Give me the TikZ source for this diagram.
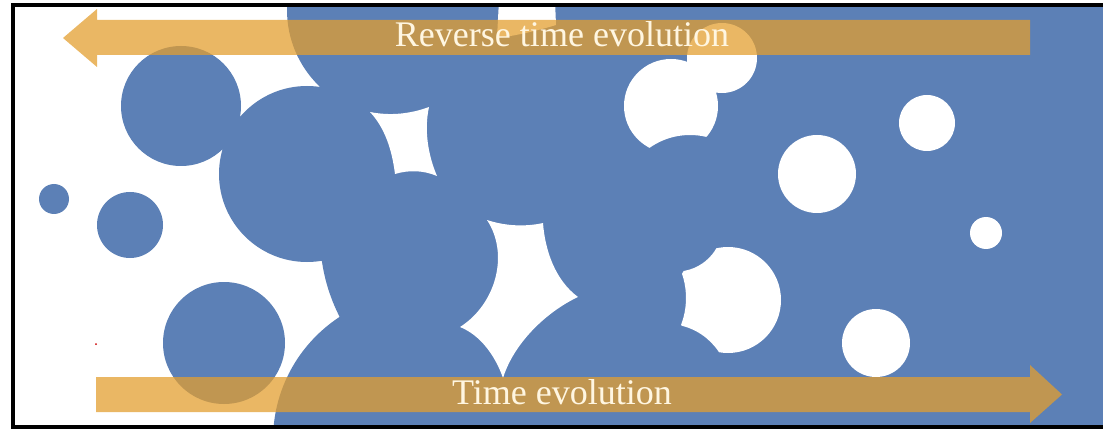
\documentclass[tikz,border=0pt]{standalone}
\usepackage{fontspec}
\setmainfont{Liberation Serif}
\definecolor{bl}{RGB}{92,128,182}
\definecolor{og}{RGB}{227,158,46}
\definecolor{cream}{RGB}{255,246,225}
\tikzset{
  blob/.style={fill=bl},
  hole/.style={fill=white},
  band/.style={fill=og, fill opacity=0.74},
  arrowtext/.style={text=cream, font=\fontsize{20.5}{24}\selectfont, anchor=base, inner sep=0pt},
  framing/.style={line width=0.08cm, draw=black}
}
\begin{document}
\begin{tikzpicture}[x=0.02cm,y=-0.02cm]
\useasboundingbox (0,0) rectangle (1103,429);
\begin{scope}
\clip (13,5) rectangle (1103,427);
% blue mass
\fill[blob] (420,0) rectangle (1103,429);
\fill[blob] (54,199) circle (15) (130,225) circle (33) (181,106) circle (60)
  (224,343) circle (61) (393,10) circle (106) (307,174) circle (88)
  (500,235) circle (180) (420,440) circle (147);
% white gaps
\fill[hole] (499,0) -- (555,0) -- (556,25) .. controls (540,30) and (515,36) .. (497,38) -- cycle;
\fill[hole] (370,112) .. controls (390,116) and (410,114) .. (429,107)
  .. controls (424,130) and (428,155) .. (437,176)
  .. controls (423,170) and (408,170) .. (395,174)
  .. controls (392,150) and (385,128) .. (370,112) -- cycle;
\fill[hole] (487,220) .. controls (505,226) and (525,227) .. (543,223)
  .. controls (545,250) and (555,280) .. (578,297)
  .. controls (550,310) and (515,340) .. (503,378)
  .. controls (495,355) and (480,335) .. (460,327)
  .. controls (495,305) and (510,255) .. (487,220) -- cycle;
\begin{scope}[even odd rule]
  \clip (0,-10) rectangle (1103,440) (690,205) circle (70);
  \fill[hole, nonzero rule] (671,106) circle (47) (722,58) circle (35);
\end{scope}
\begin{scope}[even odd rule]
  \clip (0,-10) rectangle (1103,440) (676,225) circle (46.6) (611,298) circle (75) (667,386) circle (62);
  \fill[hole, nonzero rule] (728,300) circle (53);
\end{scope}
\fill[hole] (927,123) circle (28) (817,174) circle (39) (986,233) circle (16) (876,343) circle (34);
\fill[red!80!black] (96,344) circle (1);
% arrows
\fill[band] (1030,20) -- (97,20) -- (97,9) -- (63,38) -- (97,67) -- (97,55) -- (1030,55) -- cycle;
\fill[band] (96,377) -- (1030,377) -- (1030,365) -- (1062,394.5) -- (1030,423) -- (1030,412) -- (96,412) -- cycle;
\end{scope}
\node[arrowtext] (rev) at (562,47) {Reverse time evolution};
\node[arrowtext] (fwd) at (562,404) {Time evolution};
\draw[framing] (13,429) -- (13,5) -- (1103,5);
\draw[framing] (13,427) -- (1103,427);
\end{tikzpicture}
\end{document}
